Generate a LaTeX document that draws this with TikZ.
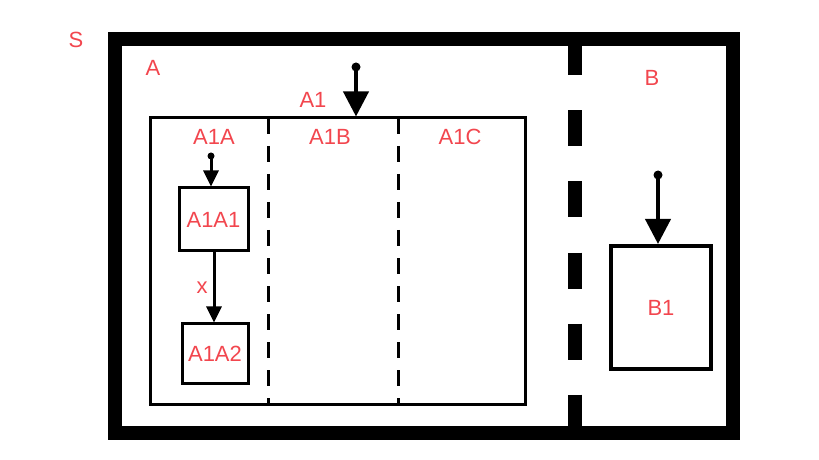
\documentclass[tikz,border=0pt]{standalone}
\usepackage{fontspec}
\setmainfont{Liberation Sans}
\usetikzlibrary{arrows.meta}
\definecolor{lbl}{RGB}{242,70,78}
\begin{document}
\begin{tikzpicture}[x=1bp,y=-1bp,
  lab/.style={text=lbl,font=\fontsize{22bp}{26bp}\selectfont,inner sep=0pt},
  box/.style={draw,line width=3bp,inner sep=0pt,text=lbl,font=\fontsize{22bp}{26bp}\selectfont},
  dot/.style={circle,fill,inner sep=0pt,minimum size=#1},
  bigarrow/.style={line width=4bp,-{Triangle[width=25bp,length=25bp]}},
  smallarrow/.style={line width=3bp,-{Triangle[width=15bp,length=16bp]}}]
\useasboundingbox (0,0) rectangle (819,460);
% outer system frame
\node[draw,line width=14bp,minimum width=618bp,minimum height=393.5bp,inner sep=0pt] (S) at (424,236.25) {};
% thick dashed divider
\coordinate (dtop) at (575,39.5);
\coordinate (dbot) at (575,433);
\draw[line width=14bp,dash pattern=on 36bp off 35bp] (dtop) -- (dbot);
% A1 box
\node[draw,line width=3bp,minimum width=374bp,minimum height=286bp,inner sep=0pt] (A1) at (338,261) {};
\coordinate (d1t) at (268,118); \coordinate (d1b) at (268,404);
\coordinate (d2t) at (398,118); \coordinate (d2b) at (398,404);
\draw[line width=3bp,dash pattern=on 16bp off 12bp] (d1t) -- (d1b);
\draw[line width=3bp,dash pattern=on 16bp off 12bp] (d2t) -- (d2b);
% labels
\node[lab] (lS) at (76,40) {S};
\node[lab] (lA) at (153,68) {A};
\node[lab] (lA1) at (313,100) {A1};
\node[lab] (lA1A) at (214,137) {A1A};
\node[lab] (lA1B) at (330,137) {A1B};
\node[lab] (lA1C) at (460,137) {A1C};
\node[lab] (lB) at (652,78) {B};
% inner boxes
\node[box,minimum width=69bp,minimum height=63bp] (A1A1) at (213.5,219.5) {A1A1};
\node[box,minimum width=66bp,minimum height=59bp] (A1A2) at (215,353.5) {A1A2};
\node[box,line width=4bp,minimum width=100bp,minimum height=123bp] (B1) at (661,307.5) {B1};
% initial dots and arrows
\node[dot=9bp] (i1) at (356,67) {};
\draw[bigarrow] (i1.center) -- (i1.center |- A1.north);
\node[dot=7bp] (i2) at (211,156) {};
\draw[smallarrow] (i2.center) -- (i2.center |- A1A1.north);
\node[dot=9bp] (i3) at (658,175) {};
\draw[bigarrow] (i3.center) -- (i3.center |- B1.north);
% transition
\draw[smallarrow] (A1A1.south -| 214,0) -- node[lab,left=5bp] (lx) {x} (A1A2.north -| 214,0);
\end{tikzpicture}
\end{document}
